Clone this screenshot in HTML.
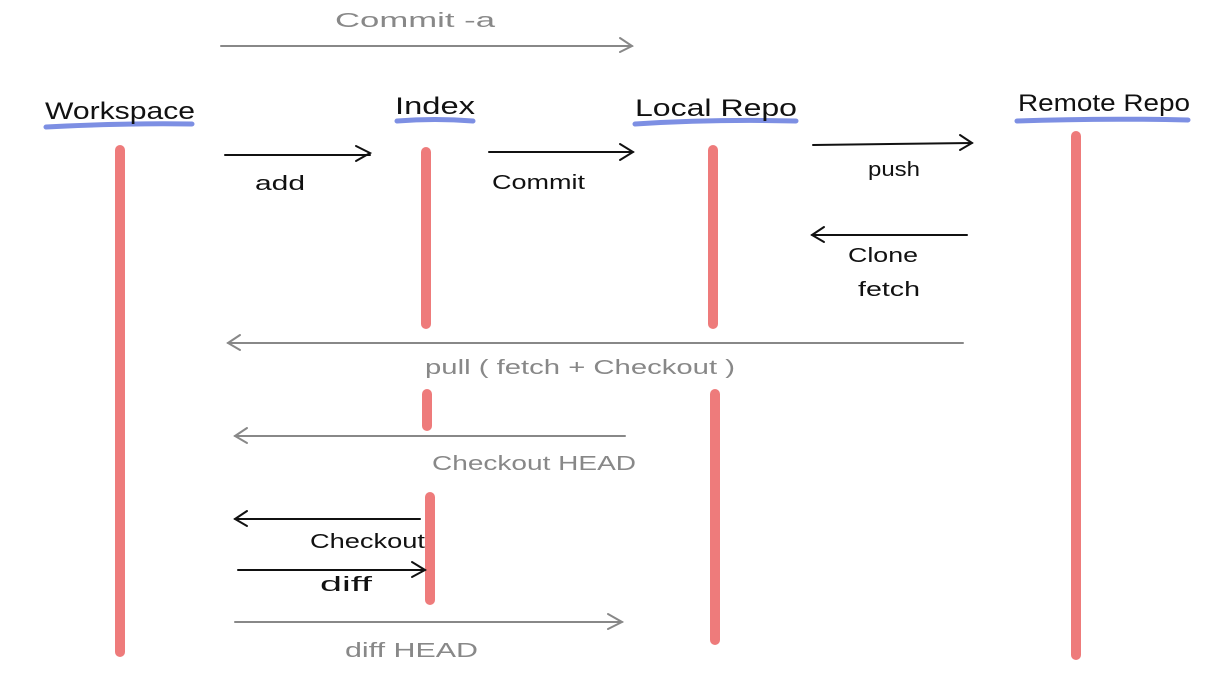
<!DOCTYPE html>
<html><head><meta charset="utf-8"><style>
html,body{margin:0;padding:0;background:#fff;}
svg{display:block}
text{font-family:"Liberation Sans",sans-serif;}
</style></head><body>
<svg width="1224" height="695" viewBox="0 0 1224 695" xmlns="http://www.w3.org/2000/svg">
<g stroke-linecap="round" fill="none">
<g stroke="#ee7b7b" stroke-width="10">
<line x1="120" y1="150" x2="120" y2="652"/>
<line x1="426" y1="152" x2="426" y2="324"/>
<line x1="427" y1="394" x2="427" y2="426"/>
<line x1="430" y1="497" x2="430" y2="600"/>
<line x1="713" y1="150" x2="713" y2="324"/>
<line x1="715" y1="394" x2="715" y2="640"/>
<line x1="1076" y1="136" x2="1076" y2="655"/>
</g>
<g stroke="#7d8fe3" stroke-width="5">
<path d="M46 127 Q120 123 192 124"/>
<path d="M397 121 Q435 118 473 121"/>
<path d="M635 124 Q715 119 796 121"/>
<path d="M1017 121 Q1100 118 1188 120"/>
</g>
<g stroke="#888" stroke-width="2">
<line x1="221" y1="46" x2="632" y2="46"/><path d="M620 38 L632 46 L620 52"/>
<line x1="963" y1="343" x2="228" y2="343"/><path d="M240 335 L228 343 L240 350"/>
<line x1="625" y1="436" x2="235" y2="436"/><path d="M247 428 L235 436 L247 443"/>
<line x1="235" y1="622" x2="622" y2="622"/><path d="M608 614 L622 622 L608 629"/>
</g>
<g stroke="#111" stroke-width="2">
<line x1="225" y1="155" x2="370" y2="155"/><path d="M356 146 L370 153 L356 161"/>
<line x1="489" y1="152" x2="633" y2="152"/><path d="M620 144 L633 152 L620 160"/>
<line x1="813" y1="145" x2="972" y2="143"/><path d="M960 135 L972 143 L960 150"/>
<line x1="967" y1="235" x2="812" y2="235"/><path d="M824 227 L812 235 L824 242"/>
<line x1="420" y1="519" x2="235" y2="519"/><path d="M247 511 L235 519 L247 526"/>
<line x1="238" y1="570" x2="425" y2="570"/><path d="M412 562 L425 570 L412 577"/>
</g>
</g>
<g fill="#111" font-size="24">
<text x="45" y="119" textLength="150" lengthAdjust="spacingAndGlyphs">Workspace</text>
<text x="395" y="114" textLength="80" lengthAdjust="spacingAndGlyphs">Index</text>
<text x="635" y="116" textLength="162" lengthAdjust="spacingAndGlyphs">Local Repo</text>
<text x="1018" y="111" textLength="172" lengthAdjust="spacingAndGlyphs">Remote Repo</text>
</g>
<g fill="#111" font-size="20">
<text x="255" y="190" textLength="50" lengthAdjust="spacingAndGlyphs">add</text>
<text x="492" y="189" textLength="93" lengthAdjust="spacingAndGlyphs">Commit</text>
<text x="868" y="176" textLength="52" lengthAdjust="spacingAndGlyphs">push</text>
<text x="848" y="262" textLength="70" lengthAdjust="spacingAndGlyphs">Clone</text>
<text x="858" y="296" textLength="62" lengthAdjust="spacingAndGlyphs">fetch</text>
<text x="310" y="548" textLength="115" lengthAdjust="spacingAndGlyphs">Checkout</text>
<text x="320" y="591" textLength="52" lengthAdjust="spacingAndGlyphs">diff</text>
</g>
<g fill="#888" font-size="20">
<text x="335" y="27" textLength="160" lengthAdjust="spacingAndGlyphs">Commit -a</text>
<text x="425" y="374" textLength="310" lengthAdjust="spacingAndGlyphs">pull ( fetch + Checkout )</text>
<text x="432" y="470" textLength="204" lengthAdjust="spacingAndGlyphs">Checkout HEAD</text>
<text x="345" y="657" textLength="133" lengthAdjust="spacingAndGlyphs">diff HEAD</text>
</g>
</svg>
</body></html>
